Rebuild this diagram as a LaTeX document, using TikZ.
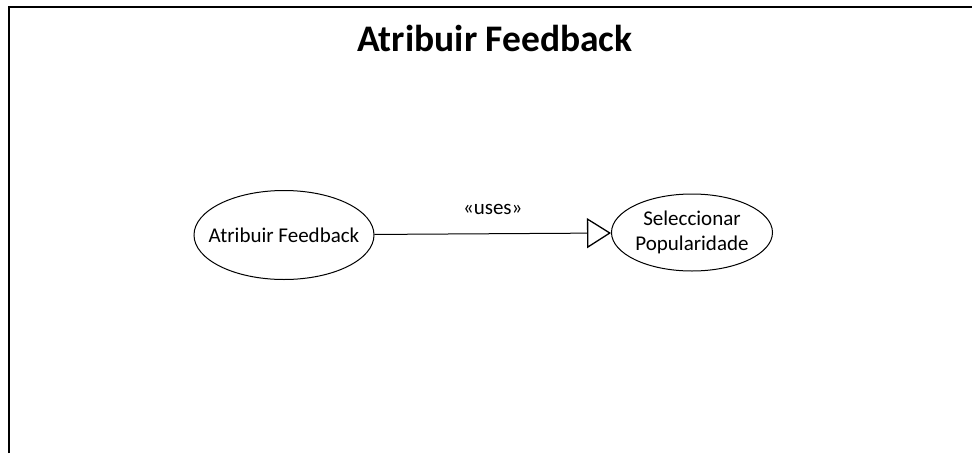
\documentclass[tikz,border=0pt]{standalone}
\usepackage{fontspec}
\setmainfont{Carlito}
\usetikzlibrary{shapes.geometric}
\usetikzlibrary{arrows.meta}

\begin{document}
\begin{tikzpicture}[x=1pt, y=-1pt,
		usecase/.style={draw, ellipse, line width=1pt, inner xsep=-13pt, inner ysep=0pt, align=center,
			font=\fontsize{21}{25}\selectfont},
		uses/.style={line width=1pt, -{Triangle[open, length=24pt, width=30pt, line width=1.3pt, fill=white]}}]
	\useasboundingbox (0,0) rectangle (972,453);
	% frame
	\draw[line width=2pt] (9,453) -- (9,7) -- (972,7);
	\node[font=\fontsize{37.5}{44}\selectfont\bfseries] (title) at (495,38) {Atribuir Feedback};
	% use cases
	\node[usecase, minimum width=180pt, minimum height=89pt] (feedback) at (284,235) {Atribuir Feedback};
	\node[usecase, minimum width=161pt, minimum height=77pt] (popularidade) at (692,232.5) {Seleccionar\\Popularidade};
	\draw[uses] (feedback) -- (popularidade) node[midway, above=15pt, font=\fontsize{21}{25}\selectfont] (lbl) {«uses»};
\end{tikzpicture}
\end{document}
